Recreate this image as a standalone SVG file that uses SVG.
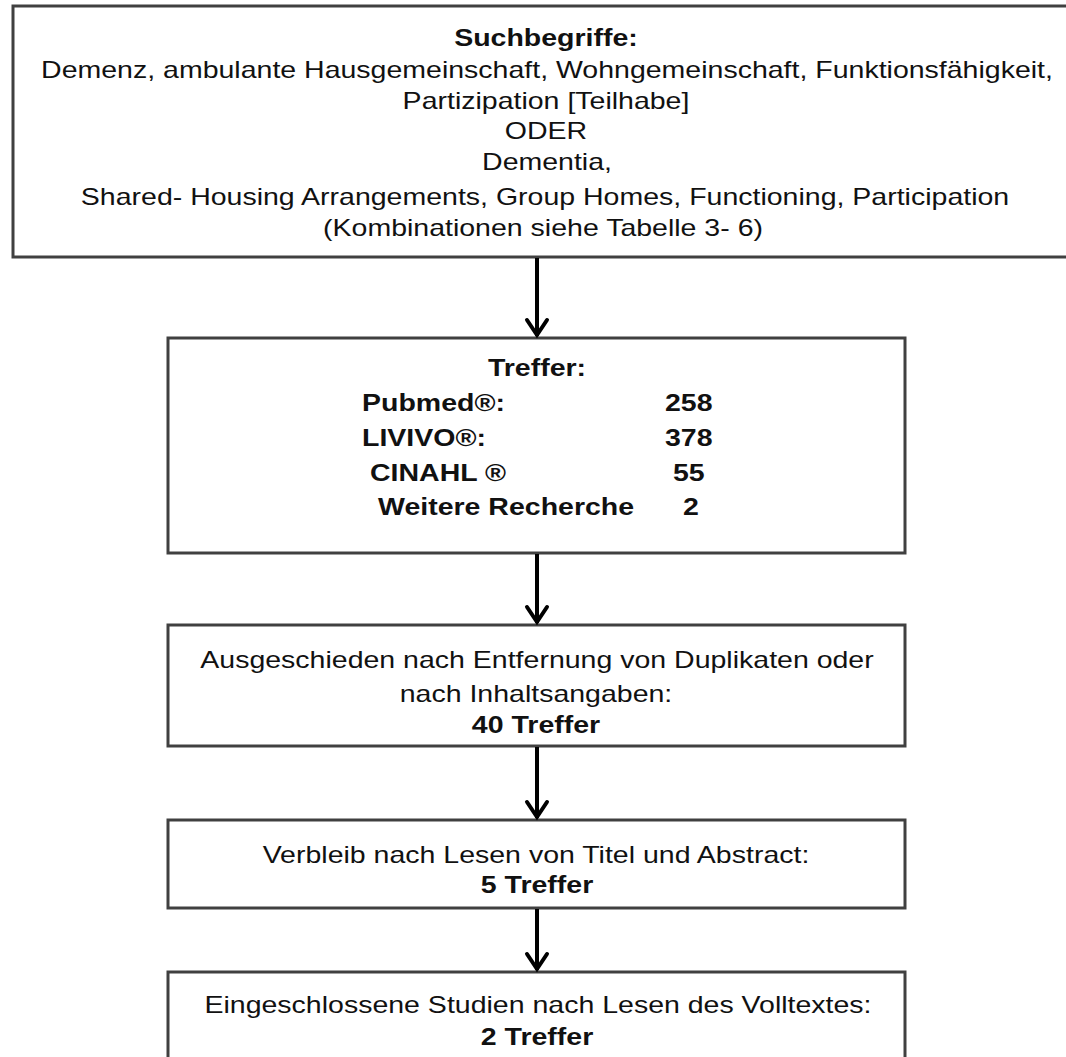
<svg xmlns="http://www.w3.org/2000/svg" width="1066" height="1057" viewBox="0 0 1066 1057">
<style>
.box{fill:#ffffff;stroke:#404040;stroke-width:3}
.t{font-family:"Liberation Sans",Arial,sans-serif;font-size:23px;fill:#111;text-anchor:middle}
.b{font-weight:bold}
.l{text-anchor:start}
.c{stroke:#000;stroke-width:4;fill:none}
.h{stroke:#000;stroke-width:4;fill:none;stroke-linecap:round;stroke-linejoin:miter}
</style>
<rect width="1066" height="1057" fill="#ffffff"/>
<g id="n1">
<rect class="box" x="13" y="6" width="1070" height="251"/>
<text class="t b" transform="translate(546 46) scale(1.24 1)">Suchbegriffe:</text>
<text class="t" transform="translate(547 78) scale(1.24 1)">Demenz, ambulante Hausgemeinschaft, Wohngemeinschaft, Funktionsfähigkeit,</text>
<text class="t" transform="translate(546 109) scale(1.24 1)">Partizipation [Teilhabe]</text>
<text class="t" transform="translate(546 139) scale(1.24 1)">ODER</text>
<text class="t" transform="translate(547 170) scale(1.24 1)">Dementia,</text>
<text class="t" transform="translate(545 205) scale(1.24 1)">Shared- Housing Arrangements, Group Homes, Functioning, Participation</text>
<text class="t" transform="translate(543 236) scale(1.24 1)">(Kombinationen siehe Tabelle 3- 6)</text>
</g>
<g id="n2">
<rect class="box" x="168" y="338" width="737" height="215"/>
<text class="t b" transform="translate(537 376) scale(1.24 1)">Treffer:</text>
<text class="t b l" transform="translate(362 411) scale(1.24 1)">Pubmed®:</text>
<text class="t b l" transform="translate(665 411) scale(1.24 1)">258</text>
<text class="t b l" transform="translate(362 446) scale(1.24 1)">LIVIVO®:</text>
<text class="t b l" transform="translate(665 446) scale(1.24 1)">378</text>
<text class="t b l" transform="translate(370 481) scale(1.24 1)">CINAHL ®</text>
<text class="t b l" transform="translate(673 481) scale(1.24 1)">55</text>
<text class="t b l" transform="translate(378 515) scale(1.24 1)">Weitere Recherche</text>
<text class="t b l" transform="translate(683 515) scale(1.24 1)">2</text>
</g>
<g id="n3">
<rect class="box" x="168" y="625" width="737" height="121"/>
<text class="t" transform="translate(537 668) scale(1.24 1)">Ausgeschieden nach Entfernung von Duplikaten oder</text>
<text class="t" transform="translate(536 702) scale(1.24 1)">nach Inhaltsangaben:</text>
<text class="t b" transform="translate(536 733) scale(1.24 1)">40 Treffer</text>
</g>
<g id="n4">
<rect class="box" x="168" y="820" width="737" height="88"/>
<text class="t" transform="translate(536 863) scale(1.24 1)">Verbleib nach Lesen von Titel und Abstract:</text>
<text class="t b" transform="translate(537 893) scale(1.24 1)">5 Treffer</text>
</g>
<g id="n5">
<rect class="box" x="168" y="972" width="737" height="100"/>
<text class="t" transform="translate(538 1013) scale(1.24 1)">Eingeschlossene Studien nach Lesen des Volltextes:</text>
<text class="t b" transform="translate(537 1045) scale(1.24 1)">2 Treffer</text>
</g>
<g id="connectors">
<line class="c" x1="537" y1="258" x2="537" y2="336"/>
<polyline class="h" points="527,320 537,335 547,320"/>
<line class="c" x1="537" y1="554" x2="537" y2="623"/>
<polyline class="h" points="527,607 537,622 547,607"/>
<line class="c" x1="537" y1="747" x2="537" y2="818"/>
<polyline class="h" points="527,802 537,817 547,802"/>
<line class="c" x1="537" y1="909" x2="537" y2="970"/>
<polyline class="h" points="527,954 537,969 547,954"/>
</g>
</svg>
